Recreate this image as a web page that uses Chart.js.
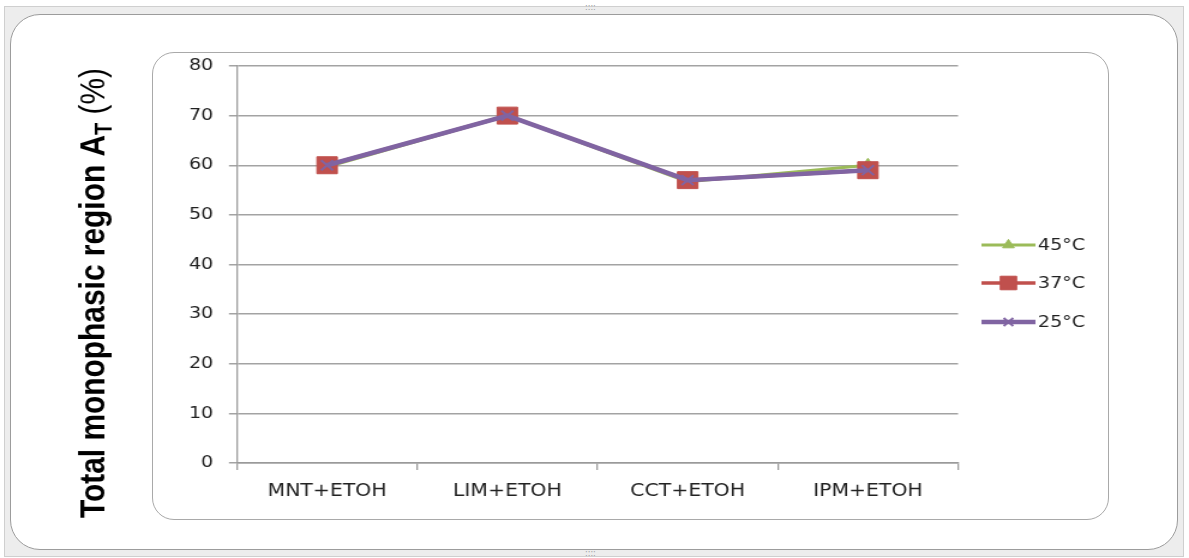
<!DOCTYPE html>
<html>
<head>
<meta charset="utf-8">
<script src="https://cdn.jsdelivr.net/npm/chart.js@4.4.1/dist/chart.umd.min.js"></script>
<style>
  html, body { margin: 0; padding: 0; background: #ffffff; }
  #stage { position: relative; width: 1189px; height: 558px; overflow: hidden; }
  .frame-outer { position: absolute; left: 4px; top: 6px; width: 1178px; height: 549px;
    border: 1px solid #cfcfcf; background: #ededed; }
  .frame-inner { position: absolute; left: 10px; top: 14px; width: 1166px; height: 534px;
    border: 1.5px solid #9c9c9c; border-radius: 30px; background: #ffffff; }
  .plot-frame { position: absolute; left: 152px; top: 52px; width: 955px; height: 466px;
    border: 1.2px solid #a9a9a9; border-radius: 22px; }
  .grip { position: absolute; font: 8px "DejaVu Sans"; color: #9a9a9a; }
  /* the drawing is laid out on a narrower canvas and widened to the full width */
  #chart { position: absolute; left: 0; top: 0; transform-origin: 0 0; }
</style>
</head>
<body>
<div id="stage">
  <div class="frame-outer"></div>
  <div class="grip" style="left:585px;top:3px;">::::</div>
  <div class="grip" style="left:585px;top:549px;">::::</div>
  <div class="frame-inner"></div>
  <div class="plot-frame"></div>
  <canvas id="chart" width="991" height="558"></canvas>
</div>
<script>
// Formulations (oil + ethanol) on the x axis
const categories = ['MNT+ETOH', 'LIM+ETOH', 'CCT+ETOH', 'IPM+ETOH'];
// Total monophasic region A_T (%) at each temperature
const values45 = [59.7, 70, 56.7, 60];
const values37 = [60, 70, 57, 59];
const values25 = [60, 70, 57, 59];
const seriesLabels = ['45°C', '37°C', '25°C'];
const yTicks = [0, 10, 20, 30, 40, 50, 60, 70, 80];

const GREEN = '#9bbb59', RED = '#c0504d', PURPLE = '#8064a2';
const STRETCH = 1189 / 991;
document.getElementById('chart').style.transform = 'scaleX(' + STRETCH + ')';

// Rotated axis title with subscript "T"
const yTitlePlugin = {
  id: 'yTitle',
  afterDraw(chart) {
    const ctx = chart.ctx;
    const main = 'Total monophasic region A';
    const sub = 'T';
    const tail = ' (%)';
    const big = 'bold 30px "Liberation Sans"';
    const small = 'bold 20px "Liberation Sans"';
    const plain = '30px "Liberation Sans"';
    ctx.save();
    ctx.font = big;
    const w1 = ctx.measureText(main).width;
    ctx.font = plain;
    const w3 = ctx.measureText(tail).width;
    ctx.font = small;
    const w2 = ctx.measureText(sub).width;
    const total = w1 + w2 + w3;
    const length = 450;
    ctx.translate(79, 293);
    ctx.rotate(-Math.PI / 2);
    ctx.scale(length / total, 1);
    ctx.fillStyle = '#000';
    ctx.textBaseline = 'middle';
    ctx.textAlign = 'left';
    let x = -total / 2;
    ctx.font = big;
    ctx.fillText(main, x, 0);
    x += w1;
    ctx.font = small;
    ctx.fillText(sub, x, 8);
    x += w2;
    ctx.font = plain;
    ctx.fillText(tail, x, 0);
    ctx.restore();
  }
};

// Legend on the right, built from the dataset styles
const sideLegendPlugin = {
  id: 'sideLegend',
  afterDraw(chart) {
    const ctx = chart.ctx;
    const x0 = 818, x1 = 863, rowY = [245, 283, 322];
    chart.data.datasets.forEach((ds, i) => {
      const y = rowY[i];
      ctx.save();
      ctx.strokeStyle = ds.borderColor;
      ctx.lineWidth = ds.borderWidth;
      ctx.beginPath();
      ctx.moveTo(x0, y);
      ctx.lineTo(x1, y);
      ctx.stroke();
      ctx.fillStyle = ds.pointBackgroundColor;
      ctx.strokeStyle = ds.pointBorderColor;
      ctx.lineWidth = ds.pointBorderWidth;
      Chart.helpers.drawPoint(ctx, {
        pointStyle: ds.pointStyle,
        radius: ds.pointRadius * 0.8,
        rotation: 0,
        borderWidth: ds.pointBorderWidth
      }, (x0 + x1) / 2, y);
      ctx.fillStyle = '#222';
      ctx.font = '16px "DejaVu Sans"';
      ctx.textAlign = 'left';
      ctx.textBaseline = 'middle';
      ctx.fillText(ds.label, x1 + 2, y + 1);
      ctx.restore();
    });
  }
};

function series(label, data, color, style, radius, order, width) {
  return {
    label, data, order,
    borderColor: color,
    backgroundColor: color,
    borderWidth: width,
    pointStyle: style,
    pointRadius: radius,
    pointHoverRadius: radius,
    pointBackgroundColor: color,
    pointBorderColor: color,
    pointBorderWidth: style === 'crossRot' ? 2 : 1,
    tension: 0,
    fill: false
  };
}

new Chart(document.getElementById('chart'), {
  type: 'line',
  data: {
    labels: categories,
    datasets: [
      series(seriesLabels[0], values45, GREEN, 'triangle', 7, 2, 3),
      series(seriesLabels[1], values37, RED, 'rect', 12, 1, 3.5),
      series(seriesLabels[2], values25, PURPLE, 'crossRot', 7, 0, 4.5)
    ]
  },
  options: {
    responsive: false,
    devicePixelRatio: 1,
    animation: false,
    events: [],
    layout: { padding: { left: 147.5, right: 192.5, top: 66, bottom: 55 } },
    plugins: { legend: { display: false }, tooltip: { enabled: false } },
    scales: {
      x: {
        offset: true,
        afterFit(s) { s.height = 40; },
        grid: { display: true, drawOnChartArea: false, offset: true, tickLength: 7, color: '#9a9a9a', lineWidth: 1.3 },
        border: { display: true, color: '#9a9a9a', width: 1.5 },
        ticks: { color: '#222', font: { family: 'DejaVu Sans', size: 17 }, padding: 11, maxRotation: 0 }
      },
      y: {
        min: 0, max: 80,
        afterFit(s) { s.width = 50; },
        afterBuildTicks(s) { s.ticks = yTicks.map(v => ({ value: v })); },
        grid: { color: '#a3a3a3', lineWidth: 1.5, tickLength: 6.7 },
        border: { display: true, color: '#9a9a9a', width: 1.3 },
        ticks: { color: '#222', font: { family: 'DejaVu Sans', size: 16 }, padding: 13 }
      }
    }
  },
  plugins: [yTitlePlugin, sideLegendPlugin]
});
</script>
</body>
</html>
